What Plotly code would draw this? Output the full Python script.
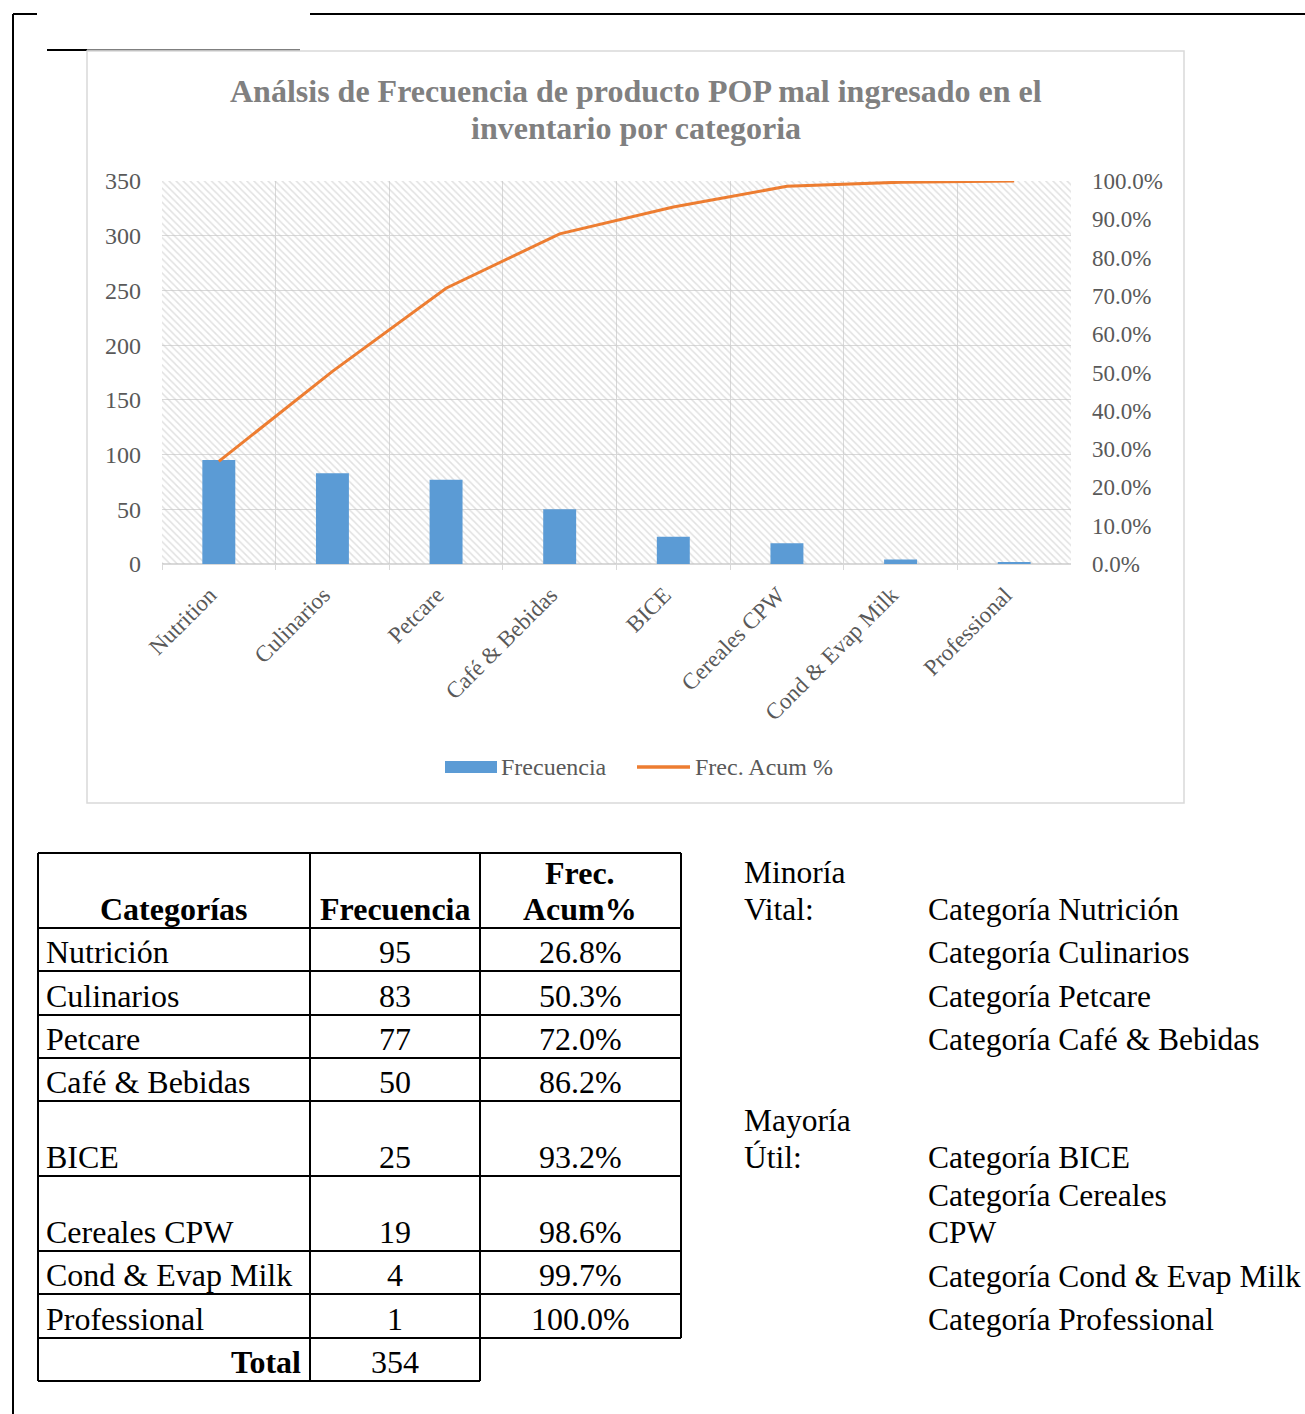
import plotly.graph_objects as go

# ---------------- data ----------------
chart_categories = ["Nutrition", "Culinarios", "Petcare", "Café & Bebidas", "BICE",
                    "Cereales CPW", "Cond & Evap Milk", "Professional"]
table_categories = ["Nutrición", "Culinarios", "Petcare", "Café & Bebidas", "BICE",
                    "Cereales CPW", "Cond & Evap Milk", "Professional"]
frecuencia = [95, 83, 77, 50, 25, 19, 4, 1]
frec_acum_pct = [26.8, 50.3, 72.0, 86.2, 93.2, 98.6, 99.7, 100.0]
total = 354
left_ticks = [0, 50, 100, 150, 200, 250, 300, 350]
right_ticks = [0, 10, 20, 30, 40, 50, 60, 70, 80, 90, 100]

title_lines = ["Análsis de Frecuencia de producto POP mal ingresado en el",
               "inventario por categoria"]
minoria_label = ["Minoría", "Vital:"]
mayoria_label = ["Mayoría", "Útil:"]
minoria_items = [["Categoría Nutrición"], ["Categoría Culinarios"], ["Categoría Petcare"],
                 ["Categoría Café & Bebidas"]]
mayoria_items = [["Categoría BICE"], ["Categoría Cereales", "CPW"],
                 ["Categoría Cond & Evap Milk"], ["Categoría Professional"]]

# ---------------- helpers ----------------
W, H = 1305, 1414
FONT = "Liberation Serif"
def px(x):
    return x / W
def py(y):
    return 1 - y / H

PLOT_L, PLOT_R, PLOT_T, PLOT_B = 162, 1071, 181, 564
xdom = [px(PLOT_L), px(PLOT_R)]
ydom = [py(PLOT_B), py(PLOT_T)]

fig = go.Figure()

# background hatch of the plot area (decoration on a hidden axis pair)
fig.add_trace(go.Scatter(
    x=[0, 1, 1, 0, 0], y=[0, 0, 1, 1, 0], mode="none", fill="toself",
    fillcolor="rgba(0,0,0,0)",
    fillpattern=dict(shape="\\", fgcolor="#c4c4c4", size=5, solidity=0.3),
    hoverinfo="skip", showlegend=False, xaxis="x", yaxis="y"))

fig.add_trace(go.Bar(
    x=chart_categories, y=frecuencia, name="Frecuencia",
    marker=dict(color="#5b9bd5", line=dict(width=0)), width=0.29,
    xaxis="x2", yaxis="y2", showlegend=False))

fig.add_trace(go.Scatter(
    x=chart_categories, y=frec_acum_pct, name="Frec. Acum %", mode="lines",
    line=dict(color="#ed7d31", width=3), xaxis="x2", yaxis="y3", showlegend=False))

tick_font = dict(family=FONT, size=23, color="#595959")

fig.update_layout(
    width=W, height=H, autosize=False,
    margin=dict(l=0, r=0, t=0, b=0),
    paper_bgcolor="white", plot_bgcolor="rgba(0,0,0,0)",
    showlegend=False,
    xaxis=dict(domain=xdom, range=[0, 1], visible=False, fixedrange=True),
    yaxis=dict(domain=ydom, range=[0, 1], visible=False, fixedrange=True),
    xaxis2=dict(overlaying="x", anchor="y2", type="category", range=[-0.5, 7.5],
                tickson="boundaries", showgrid=True, gridcolor="#d9d9d9", gridwidth=1,
                showline=False, ticks="outside", ticklen=5, tickcolor="#d9d9d9",
                tickangle=-45, tickfont=tick_font, ticklabelstandoff=12,
                ticklabelshift=-9, automargin=False, zeroline=False),
    yaxis2=dict(overlaying="y", side="left", range=[0, 350], tickvals=left_ticks,
                showgrid=True, gridcolor="#d9d9d9", gridwidth=1, zeroline=True,
                zerolinecolor="#d9d9d9", ticks="", tickfont=dict(tick_font, size=24),
                ticklabelstandoff=20, automargin=False, anchor="x2"),
    yaxis3=dict(overlaying="y", side="right", range=[0, 100], tickvals=right_ticks,
                ticktext=[f"{v:.1f}%" for v in right_ticks], showgrid=False,
                zeroline=False, ticks="", tickfont=tick_font, ticklabelstandoff=20,
                automargin=False, anchor="x2"),
)

shapes = []
def line(x0, y0, x1, y1, color="black", width=2):
    shapes.append(dict(type="line", xref="paper", yref="paper",
                       x0=px(x0), y0=py(y0), x1=px(x1), y1=py(y1),
                       line=dict(color=color, width=width)))

# page / frame lines
line(13, 14, 13, 1414)
line(13, 14, 37, 14)
line(310, 14, 1305, 14)
line(47, 50, 87, 50)
line(87, 50, 300, 50, color="#555555", width=1.5)
shapes.append(dict(type="rect", xref="paper", yref="paper",
                   x0=px(87), y0=py(51), x1=px(1184), y1=py(803),
                   line=dict(color="#d9d9d9", width=1.5), fillcolor="rgba(0,0,0,0)"))

# manual legend
shapes.append(dict(type="rect", xref="paper", yref="paper",
                   x0=px(445), y0=py(761), x1=px(497), y1=py(773),
                   line=dict(width=0), fillcolor="#5b9bd5"))
line(637, 767, 690, 767, color="#ed7d31", width=3.5)

annotations = []
def text(x, y, t, size=32, xanchor="left", color="black", bold=False, yanchor="middle"):
    annotations.append(dict(xref="paper", yref="paper", x=px(x), y=py(y),
                            text=("<b>" + t + "</b>") if bold else t,
                            showarrow=False, xanchor=xanchor, yanchor=yanchor,
                            borderpad=0, borderwidth=0,
                            font=dict(family=FONT, size=size, color=color)))

# title
for t, y in zip(title_lines, [91, 128]):
    text(635.5, y, t, size=32, xanchor="center", color="#808080", bold=True)

text(501, 767, "Frecuencia", size=24, color="#595959")
text(695, 767, "Frec. Acum %", size=24, color="#595959")

# table grid
col_x = [38, 310, 480, 681]
row_y = [853, 928, 971, 1015, 1058, 1101, 1176, 1251, 1294, 1338]
total_bottom = 1381
for y in row_y:
    line(col_x[0], y, col_x[3], y)
line(col_x[0], total_bottom, col_x[2], total_bottom)
for x in col_x[:3]:
    line(x, row_y[0], x, total_bottom)
line(col_x[3], row_y[0], col_x[3], row_y[-1])

# header
text(174, 909, "Categorías", xanchor="center", bold=True)
text(395, 909, "Frecuencia", xanchor="center", bold=True)
text(580, 873, "Frec.", xanchor="center", bold=True)
text(580, 909, "Acum%", xanchor="center", bold=True)

for i, (cat, f, c) in enumerate(zip(table_categories, frecuencia, frec_acum_pct)):
    yc = row_y[i + 2] - 19 if i + 2 < len(row_y) else total_bottom - 19 - 43
    text(46, yc, cat)
    text(395, yc, str(f), xanchor="center")
    text(580, yc, f"{c:.1f}%", xanchor="center")
text(301, total_bottom - 19, "Total", xanchor="right", bold=True)
text(395, total_bottom - 19, str(total), xanchor="center")

# right-hand notes
NOTE = 31.5
for t, y in zip(minoria_label, [872, 909]):
    text(744, y, t, size=NOTE)
for t, y in zip(mayoria_label, [1120, 1157]):
    text(744, y, t, size=NOTE)
minoria_y = [909, 952, 996, 1039]
for lines_, y in zip(minoria_items, minoria_y):
    for k, t in enumerate(lines_):
        text(928, y + 37 * k, t, size=NOTE)
mayoria_y = [1157, 1195, 1276, 1319]
for lines_, y in zip(mayoria_items, mayoria_y):
    for k, t in enumerate(lines_):
        text(928, y + 37 * k, t, size=NOTE)

fig.update_layout(shapes=shapes, annotations=annotations)
fig.write_html("out.html")
